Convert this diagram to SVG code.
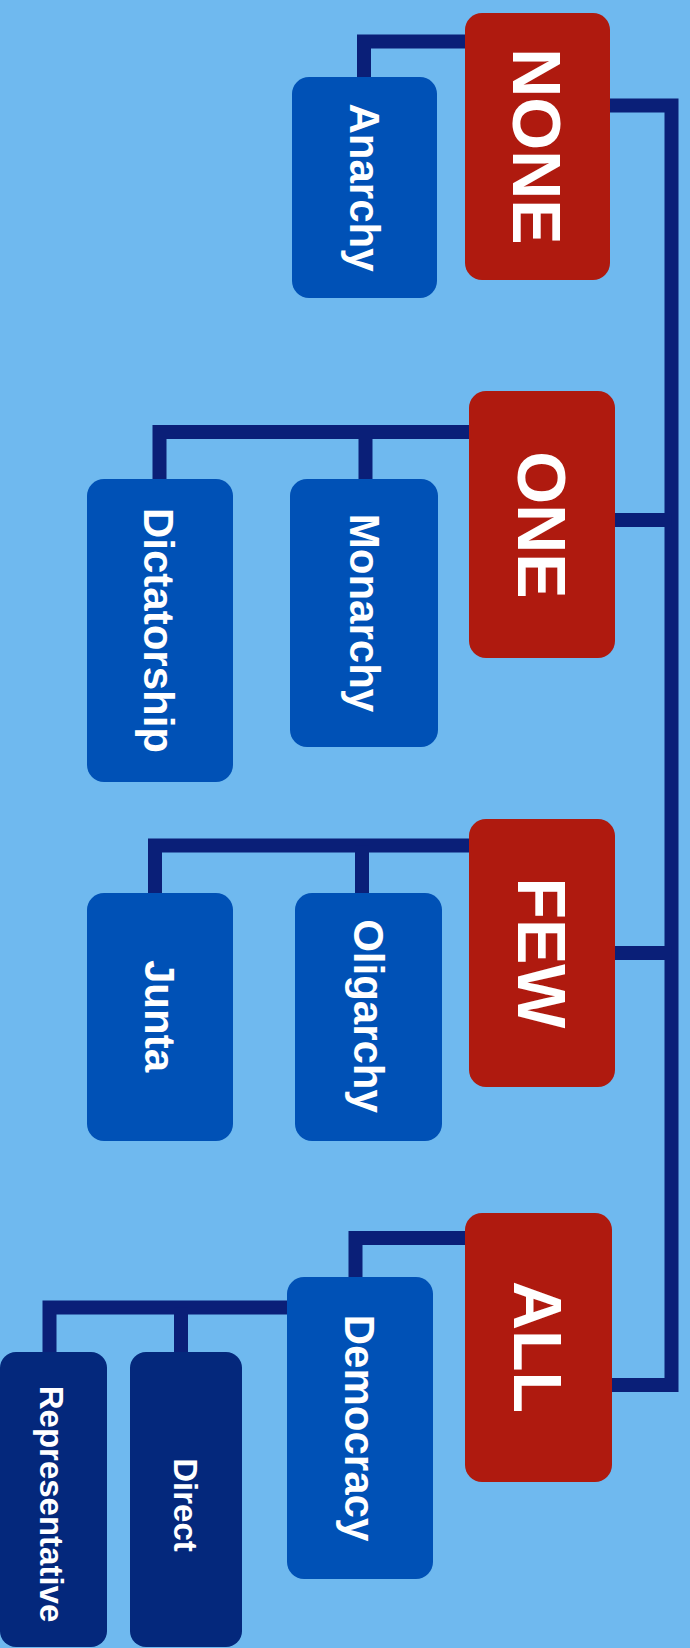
<svg xmlns="http://www.w3.org/2000/svg" width="690" height="1648" viewBox="0 0 690 1648">
<style>
.bg{fill:#6FB9EF}
.red{fill:#AF1A0F}
.blue{fill:#0051B6}
.dark{fill:#04287C}
.con{fill:none;stroke:#0A1F78;stroke-width:14;stroke-linejoin:miter;stroke-linecap:butt}
.t{fill:#FFFFFF;font-family:"Liberation Sans",Arial,sans-serif;font-weight:bold;text-anchor:middle}
.big{font-size:68px}
.mid{font-size:42px}
.sm{font-size:33px}
</style>
<rect class="bg" x="0" y="0" width="690" height="1648"/>
<g id="connectors">
<path class="con" d="M610,105.5 H671.5 V1385 H612"/>
<path class="con" d="M615,520 H671.5"/>
<path class="con" d="M615,953 H671.5"/>
<path class="con" d="M465,41.5 H364 V78"/>
<path class="con" d="M469,432 H159.5 V480"/>
<path class="con" d="M365.5,432 V480"/>
<path class="con" d="M469,845.5 H155 V894"/>
<path class="con" d="M362,845.5 V894"/>
<path class="con" d="M465,1238 H355.5 V1278"/>
<path class="con" d="M287,1307.5 H49.5 V1353"/>
<path class="con" d="M181,1307.5 V1353"/>
</g>
<g id="none">
<rect class="red" x="465" y="13" width="145" height="267" rx="17"/>
<text class="t big" transform="translate(537.5,146.5) rotate(90)" y="24.5">NONE</text>
</g>
<g id="one">
<rect class="red" x="469" y="391" width="146" height="267" rx="17"/>
<text class="t big" transform="translate(542,525) rotate(90)" y="24.5">ONE</text>
</g>
<g id="few">
<rect class="red" x="469" y="819" width="146" height="268" rx="17"/>
<text class="t big" transform="translate(542,953) rotate(90)" y="24.5">FEW</text>
</g>
<g id="all">
<rect class="red" x="465" y="1213" width="147" height="269" rx="17"/>
<text class="t big" transform="translate(538.5,1347) rotate(90)" y="24.5">ALL</text>
</g>
<g id="anarchy">
<rect class="blue" x="292" y="77" width="145" height="221" rx="17"/>
<text class="t mid" transform="translate(364.5,187.5) rotate(90)" y="15">Anarchy</text>
</g>
<g id="monarchy">
<rect class="blue" x="290" y="479" width="148" height="268" rx="17"/>
<text class="t mid" transform="translate(365,613) rotate(90)" y="15">Monarchy</text>
</g>
<g id="dictatorship">
<rect class="blue" x="87" y="479" width="146" height="303" rx="17"/>
<text class="t mid" transform="translate(159,630.5) rotate(90)" y="15">Dictatorship</text>
</g>
<g id="oligarchy">
<rect class="blue" x="295" y="893" width="147" height="248" rx="17"/>
<text class="t mid" transform="translate(368.5,1016) rotate(90)" y="15">Oligarchy</text>
</g>
<g id="junta">
<rect class="blue" x="87" y="893" width="146" height="248" rx="17"/>
<text class="t mid" transform="translate(160,1016) rotate(90)" y="15">Junta</text>
</g>
<g id="democracy">
<rect class="blue" x="287" y="1277" width="146" height="302" rx="17"/>
<text class="t mid" transform="translate(360,1428) rotate(90)" y="15">Democracy</text>
</g>
<g id="direct">
<rect class="dark" x="130" y="1352" width="112" height="295" rx="16"/>
<text class="t sm" transform="translate(186,1505) rotate(90)" y="12">Direct</text>
</g>
<g id="representative">
<rect class="dark" x="0" y="1352" width="107" height="295" rx="16"/>
<text class="t sm" transform="translate(52,1504) rotate(90)" y="12">Representative</text>
</g>
</svg>
